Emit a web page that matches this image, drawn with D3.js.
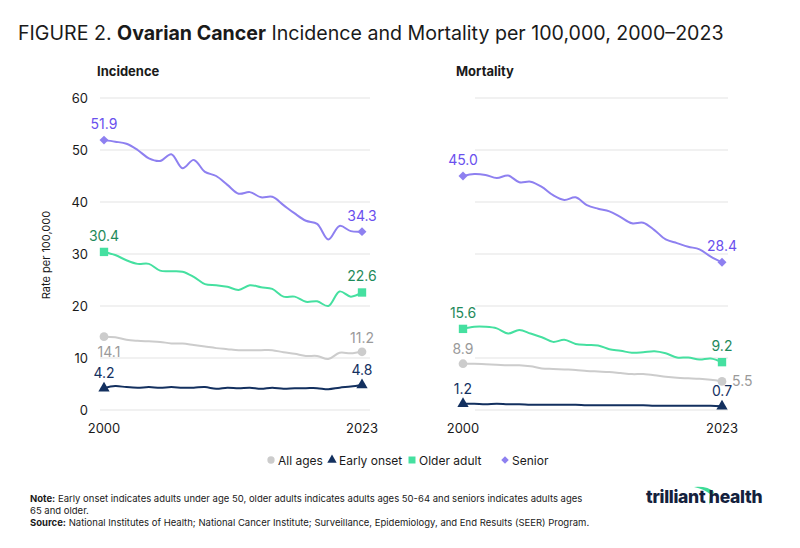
<!DOCTYPE html>
<html><head><meta charset="utf-8">
<script src="https://cdn.jsdelivr.net/npm/d3@7"></script>
<style>
body{margin:0;background:#fff;font-family:Inter,"Noto Sans",sans-serif;}
text{font-family:Inter,"Noto Sans",sans-serif;}
</style></head>
<body><div id="chart"></div>
<script>
var years = d3.range(2000, 2024);
var incSenior = [51.9,51.6,51.2,50.0,48.4,47.9,49.2,46.5,48.1,45.8,45.0,43.3,41.6,41.9,40.9,41.0,39.4,37.8,36.4,35.8,32.8,35.4,34.4,34.3];
var incOlder = [30.4,29.8,28.8,28.1,28.1,26.8,26.7,26.6,25.6,24.2,24.0,23.7,23.1,24.0,23.6,23.3,21.8,21.8,20.8,20.9,20.0,22.8,21.8,22.6];
var incAll = [14.1,14.0,13.5,13.3,13.2,13.1,12.8,12.8,12.5,12.2,11.9,11.7,11.5,11.5,11.5,11.5,11.1,10.8,10.4,10.4,9.8,11.0,10.9,11.2];
var incEarly = [4.2,4.6,4.4,4.3,4.4,4.3,4.4,4.3,4.3,4.4,4.1,4.3,4.2,4.3,4.1,4.3,4.1,4.2,4.2,4.2,4.0,4.3,4.5,4.8];
var morSenior = [45.0,45.4,45.2,44.6,45.1,43.8,43.9,42.9,41.3,40.4,40.9,39.4,38.7,38.2,37.1,35.9,36.0,34.6,32.8,32.1,31.4,30.9,29.5,28.4];
var morOlder = [15.6,16.0,16.0,15.7,14.7,15.4,14.7,14.0,13.1,13.5,12.7,12.5,12.4,11.7,11.4,11.0,11.1,11.3,10.9,10.1,10.1,9.7,9.9,9.2];
var morAll = [8.9,8.9,8.8,8.7,8.6,8.6,8.4,8.0,7.9,7.8,7.7,7.5,7.4,7.3,7.1,6.9,6.9,6.7,6.4,6.2,6.1,6.0,5.8,5.5];
var morEarly = [1.2,1.2,1.1,1.2,1.1,1.1,1.0,1.0,1.0,1.0,1.0,0.9,0.9,0.9,0.9,0.9,0.9,0.8,0.8,0.8,0.8,0.8,0.8,0.7];
var yTicks = [0,10,20,30,40,50,60];
var xTicks = [2000, 2023];
var seriesNames = ["All ages","Early onset","Older adult","Senior"];

var styles = {
  "All ages":   {line:"#cccccc", label:"#9a9a9a", sym:d3.symbolCircle, size:60, rot:0},
  "Early onset":{line:"#13305f", label:"#13305f", sym:d3.symbolTriangle, size:55, rot:0},
  "Older adult":{line:"#45e0a0", label:"#1f8a5b", sym:d3.symbolSquare, size:70, rot:0},
  "Senior":     {line:"#8e80f0", label:"#6a50ee", sym:d3.symbolSquare, size:40, rot:45}
};

var svg = d3.select("#chart").append("svg").attr("width",800).attr("height",548);

svg.append("text").attr("x",18).attr("y",40).attr("font-size",19.6).attr("fill","#1a1a1a")
  .html('FIGURE 2. <tspan font-weight="700">Ovarian Cancer</tspan> Incidence and Mortality per 100,000, 2000\u20132023');

var y = d3.scaleLinear().domain([0,60]).range([410,98]);

function marker(g, name, px, py, scale){
  var st = styles[name];
  g.append("path").attr("d",d3.symbol().type(st.sym).size(st.size*(scale||1))())
    .attr("transform","translate("+px+","+py+") rotate("+st.rot+")").attr("fill",st.line);
}

function panel(title, x0, x1, gx0, gx1, data, labelPos, showY){
  var x = d3.scaleLinear().domain([2000,2023]).range([x0,x1]);
  svg.append("text").attr("x",x0-7).attr("y",76).attr("font-size",13).attr("font-weight",700).attr("fill","#1a1a1a").text(title);
  var g = svg.append("g");
  g.selectAll("line.grid").data(yTicks).enter().append("line")
    .attr("x1",gx0).attr("x2",gx1).attr("y1",d=>y(d)).attr("y2",d=>y(d))
    .attr("stroke","#ececec").attr("stroke-width",1.5);
  if(showY){
    g.selectAll("text.yt").data(yTicks).enter().append("text")
      .attr("x",88).attr("y",d=>y(d)+5).attr("text-anchor","end").attr("font-size",13).attr("fill","#1a1a1a").text(d=>d);
  }
  g.selectAll("text.xt").data(xTicks).enter().append("text")
    .attr("x",d=>x(d)).attr("y",433).attr("text-anchor","middle").attr("font-size",13).attr("fill","#1a1a1a").text(d=>d);
  var line = d3.line().x((d,i)=>x(years[i])).y(d=>y(d)).curve(d3.curveCatmullRom);
  seriesNames.forEach(function(name){
    var vals = data[name], st = styles[name];
    g.append("path").datum(vals).attr("d",line).attr("fill","none").attr("stroke",st.line).attr("stroke-width",2);
    [0, vals.length-1].forEach(function(i){
      marker(g, name, x(years[i]), y(vals[i]));
      var lp = labelPos[name][i===0?0:1];
      g.append("text").attr("x",x(years[i])+lp[0]).attr("y",y(vals[i])+lp[1])
        .attr("text-anchor",lp[2]||"middle").attr("font-size",14).attr("fill",st.label).text(vals[i].toFixed(1));
    });
  });
}

panel("Incidence",104,362,100,370,
  {"All ages":incAll,"Early onset":incEarly,"Older adult":incOlder,"Senior":incSenior},
  {"All ages":[[5,20],[0,-9]],"Early onset":[[0,-10],[0,-10]],"Older adult":[[0,-11],[0,-11]],"Senior":[[0,-11],[0,-11]]}, true);
panel("Mortality",463,722,475,728,
  {"All ages":morAll,"Early onset":morEarly,"Older adult":morOlder,"Senior":morSenior},
  {"All ages":[[0,-10],[10,5,"start"]],"Early onset":[[0,-10],[0,-10]],"Older adult":[[0,-11],[0,-11]],"Senior":[[0,-11],[0,-11]]}, false);

svg.append("text").attr("transform","translate(50,255) rotate(-90)").attr("text-anchor","middle")
  .attr("font-size",11).attr("fill","#1a1a1a").text("Rate per 100,000");

// legend
var lx = [271,332,412,505];
var lg = svg.selectAll("g.leg").data(seriesNames).enter().append("g")
  .attr("transform",(d,i)=>"translate("+lx[i]+",460)");
lg.each(function(d){ marker(d3.select(this), d, 0, 0, 0.7); });
lg.append("text").attr("x",7).attr("y",4.5).attr("font-size",12).attr("fill","#1a1a1a").text(d=>d);

// notes
svg.append("text").attr("x",30).attr("y",502).attr("font-size",9.5).attr("fill","#1a1a1a")
  .html('<tspan font-weight="700">Note:</tspan> Early onset indicates adults under age 50, older adults indicates adults ages 50-64 and seniors indicates adults ages');
svg.append("text").attr("x",30).attr("y",514).attr("font-size",9.5).attr("fill","#1a1a1a").text("65 and older.");
svg.append("text").attr("x",30).attr("y",526).attr("font-size",9.5).attr("fill","#1a1a1a")
  .html('<tspan font-weight="700">Source:</tspan> National Institutes of Health; National Cancer Institute; Surveillance, Epidemiology, and End Results (SEER) Program.');

// logo
svg.append("path").attr("d","M694,487 Q708,486 714,492 L709,505 L710,494 Q704,489 694,487 Z").attr("fill","#3ddc97");
svg.append("text").attr("x",646).attr("y",503).attr("font-size",17.5).attr("font-weight",800).attr("fill","#14213d")
  .attr("letter-spacing",-0.3).text("trilliant health");
</script></body></html>
